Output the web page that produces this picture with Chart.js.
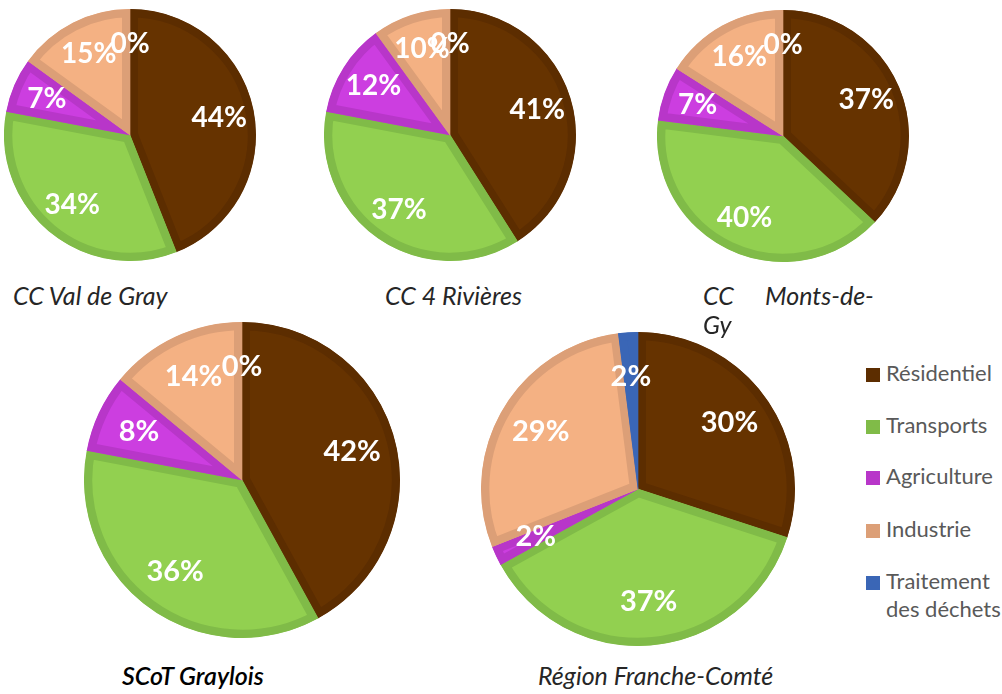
<!DOCTYPE html>
<html>
<head>
<meta charset="utf-8">
<script src="https://cdn.jsdelivr.net/npm/chart.js@4.4.1/dist/chart.umd.min.js"></script>
<style>
  html, body { margin: 0; padding: 0; background: #fff; }
  #wrap { position: relative; width: 1002px; height: 694px; overflow: hidden; font-family: Lato, "Open Sans", sans-serif; }
  .pie { position: absolute; }
  .title { position: absolute; font-style: italic; font-size: 25px; color: #262626; white-space: nowrap; line-height: 1; }
  .title.bold { color: #000; font-weight: 600; }
  .legend { position: absolute; left: 866px; top: 359px; font-size: 22px; color: #595959; }
  .legend .item { position: absolute; left: 0; white-space: nowrap; line-height: 28px; }
  .legend .sw { display: inline-block; width: 14px; height: 14px; margin-right: 6px; vertical-align: -1px; }
</style>
</head>
<body>
<div id="wrap"></div>
<script>
// categories and data (% per secteur)
const categories = ['Résidentiel', 'Transports', 'Agriculture', 'Industrie', 'Traitement des déchets'];
const territories = ['CC Val de Gray', 'CC 4 Rivières', 'CC Monts-de-Gy', 'SCoT Graylois', 'Région Franche-Comté'];
const residentiel = [44, 41, 37, 42, 30];
const transports  = [34, 37, 40, 36, 37];
const agriculture = [7, 12, 7, 8, 2];
const industrie   = [15, 10, 16, 14, 29];
const dechets     = [0, 0, 0, 0, 2];

const fills   = ['#663300', '#92d050', '#cc3ee0', '#f4b183', '#3a66b6'];
const borders = ['#5c2d00', '#80bb48', '#b836c9', '#dc9f77', '#3a66b6'];

// layout of each pie: centre and radius
const pies = [
  { cx: 130, cy: 135, r: 122 },
  { cx: 450, cy: 135, r: 122 },
  { cx: 783, cy: 136, r: 122 },
  { cx: 242, cy: 480, r: 154 },
  { cx: 638, cy: 489, r: 153 }
];
const BW = 8;

const pctLabels = {
  id: 'pctLabels',
  afterDatasetsDraw(chart) {
    const ctx = chart.ctx;
    const meta = chart.getDatasetMeta(0);
    const ds = chart.data.datasets[0];
    ctx.save();
    ctx.fillStyle = '#fff';
    ctx.font = 'bold ' + chart.options.plugins.pctLabels.size + 'px Lato, "Open Sans", sans-serif';
    ctx.textAlign = 'center';
    ctx.textBaseline = 'middle';
    meta.data.forEach((arc, i) => {
      const p = arc.getProps(['x', 'y', 'startAngle', 'endAngle', 'outerRadius'], true);
      const mid = (p.startAngle + p.endAngle) / 2;
      const d = p.outerRadius * 0.72;
      ctx.fillText(ds.data[i] + '%', p.x + Math.cos(mid) * d, p.y + Math.sin(mid) * d);
    });
    ctx.restore();
  }
};

const wrap = document.getElementById('wrap');

pies.forEach((p, k) => {
  const size = 2 * p.r + BW;
  const cv = document.createElement('canvas');
  cv.className = 'pie';
  cv.width = size; cv.height = size;
  cv.style.width = size + 'px'; cv.style.height = size + 'px';
  cv.style.left = (p.cx - size / 2) + 'px';
  cv.style.top = (p.cy - size / 2) + 'px';
  wrap.appendChild(cv);
  new Chart(cv, {
    type: 'pie',
    data: {
      labels: categories,
      datasets: [{
        data: [residentiel[k], transports[k], agriculture[k], industrie[k], dechets[k]],
        backgroundColor: fills,
        borderColor: borders,
        borderWidth: BW,
        borderAlign: 'inner'
      }]
    },
    options: {
      responsive: false,
      animation: false,
      layout: { padding: 0 },
      plugins: { legend: { display: false }, tooltip: { enabled: false }, pctLabels: { size: k < 3 ? 28 : 29 } }
    },
    plugins: [pctLabels]
  });
});

// titles
function addTitle(text, left, top, cls) {
  const d = document.createElement('div');
  d.className = 'title' + (cls ? ' ' + cls : '');
  d.style.left = left + 'px';
  d.style.top = top + 'px';
  d.textContent = text;
  wrap.appendChild(d);
}
addTitle(territories[0], 13, 283);
addTitle(territories[1], 385, 283);
addTitle('CC', 703, 283);
addTitle('Monts-de-', 765, 283);
addTitle('Gy', 703, 312);
addTitle(territories[3], 122, 663, 'bold');
addTitle(territories[4], 538, 663);

// legend
const legend = document.createElement('div');
legend.className = 'legend';
const tops = [0, 52, 103, 156, 208];
categories.forEach((c, i) => {
  const it = document.createElement('div');
  it.className = 'item';
  it.style.top = tops[i] + 'px';
  const sw = '<span class="sw" style="background:' + borders[i] + '"></span>';
  if (i === 4) it.innerHTML = sw + 'Traitement<br><span style="margin-left:20px">des déchets</span>';
  else it.innerHTML = sw + c;
  legend.appendChild(it);
});
wrap.appendChild(legend);
</script>
</body>
</html>
